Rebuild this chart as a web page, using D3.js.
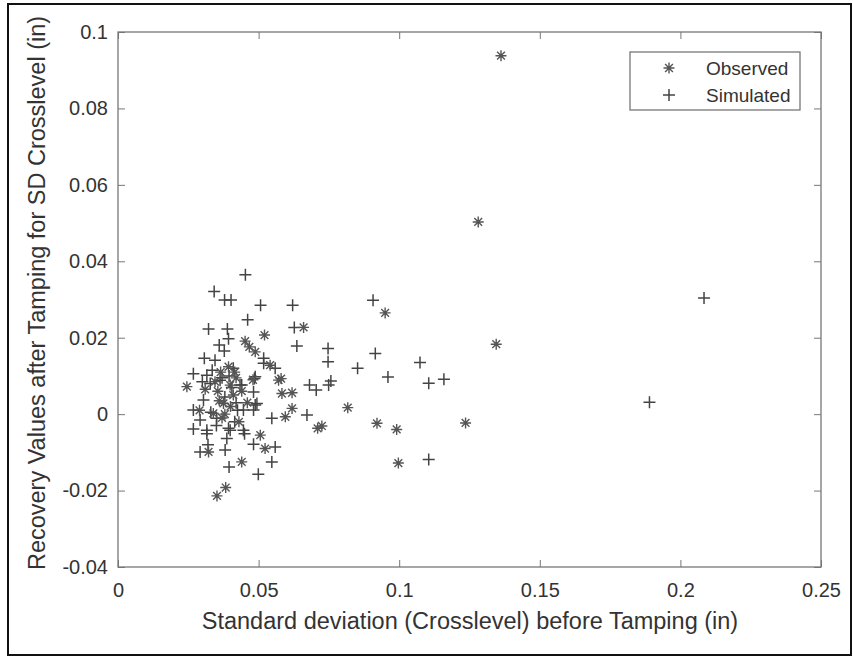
<!DOCTYPE html>
<html>
<head>
<meta charset="utf-8">
<script src="https://cdn.jsdelivr.net/npm/d3@7"></script>
<style>
  body { margin: 0; background: #fff; }
  svg text { font-family: "Liberation Sans", Arial, sans-serif; fill: #333; }
</style>
</head>
<body>
<div id="chart"></div>
<script>
// observed values [sd before tamping, recovery]
const observed = [
  [0.1362, 0.0938], [0.1281, 0.0503], [0.0950, 0.0265], [0.1345, 0.0183],
  [0.0521, 0.0207], [0.0660, 0.0227], [0.0817, 0.0017], [0.0921, -0.0024],
  [0.0991, -0.0040], [0.0997, -0.0128], [0.1236, -0.0023], [0.0725, -0.0031],
  [0.0710, -0.0037], [0.0352, -0.0214], [0.0383, -0.0192], [0.0245, 0.0072],
  [0.0452, 0.0191], [0.0467, 0.0176], [0.0488, 0.0163], [0.0541, 0.0128],
  [0.0580, 0.0093], [0.0583, 0.0054], [0.0619, 0.0056], [0.0571, 0.0089],
  [0.0619, 0.0015], [0.0595, -0.0007], [0.0393, 0.0124], [0.0399, 0.0076],
  [0.0375, 0.0028], [0.0339, 0.0002], [0.0410, 0.0050], [0.0322, -0.0099],
  [0.0506, -0.0055], [0.0523, -0.0090], [0.0440, -0.0125], [0.0365, 0.0110],
  [0.0420, 0.0095], [0.0380, 0.0000], [0.0355, 0.0060], [0.0460, 0.0030],
  [0.0290, 0.0010], [0.0480, 0.0090], [0.0430, -0.0020], [0.0360, 0.0035],
  [0.0415, 0.0110], [0.0345, 0.0085], [0.0400, 0.0020], [0.0370, -0.0010],
  [0.0310, 0.0065], [0.0440, 0.0060]
];

// simulated values
const simulated = [
  [0.2084, 0.0304], [0.1890, 0.0031], [0.0453, 0.0365], [0.0342, 0.0321],
  [0.0379, 0.0299], [0.0402, 0.0299], [0.0507, 0.0285], [0.0621, 0.0285],
  [0.0907, 0.0298], [0.0627, 0.0227], [0.0322, 0.0223], [0.0389, 0.0223],
  [0.0461, 0.0247], [0.0636, 0.0178], [0.0747, 0.0172], [0.0747, 0.0137],
  [0.0915, 0.0159], [0.0852, 0.0120], [0.1074, 0.0135], [0.0960, 0.0097],
  [0.1105, 0.0081], [0.1159, 0.0091], [0.0757, 0.0087], [0.0749, 0.0076],
  [0.0681, 0.0076], [0.0705, 0.0063], [0.0672, -0.0002], [0.1105, -0.0119],
  [0.0499, -0.0157], [0.0547, -0.0125], [0.0393, 0.0197], [0.0360, 0.0181],
  [0.0378, 0.0165], [0.0518, 0.0146], [0.0559, 0.0120], [0.0307, 0.0146],
  [0.0345, 0.0141], [0.0268, 0.0106], [0.0440, 0.0076], [0.0482, 0.0058],
  [0.0485, 0.0093], [0.0488, 0.0024], [0.0268, -0.0039], [0.0316, -0.0051],
  [0.0292, -0.0099], [0.0381, -0.0094], [0.0387, -0.0064], [0.0393, -0.0037],
  [0.0450, -0.0051], [0.0482, -0.0079], [0.0559, -0.0086], [0.0395, -0.0138],
  [0.0482, 0.0011], [0.0547, -0.0011], [0.0316, 0.0102], [0.0328, 0.0080],
  [0.0363, 0.0089], [0.0434, 0.0076], [0.0488, 0.0098], [0.0494, 0.0028],
  [0.0446, 0.0011], [0.0268, 0.0011], [0.0316, -0.0042], [0.0399, -0.0042],
  [0.0446, -0.0042], [0.0292, -0.0015], [0.0351, -0.0011], [0.0304, 0.0037],
  [0.0518, 0.0133], [0.0320, -0.0080], [0.0330, 0.0005], [0.0410, 0.0120],
  [0.0395, 0.0100], [0.0370, 0.0095], [0.0420, 0.0030], [0.0300, 0.0085],
  [0.0350, -0.0030], [0.0425, 0.0010], [0.0380, 0.0045], [0.0405, 0.0070],
  [0.0335, 0.0115], [0.0415, -0.0020]
];

const xTicks = [0, 0.05, 0.1, 0.15, 0.2, 0.25];
const yTicks = [-0.04, -0.02, 0, 0.02, 0.04, 0.06, 0.08, 0.1];
const legendLabels = ["Observed", "Simulated"];

const W = 853, H = 657;
const margin = {left: 118, right: 32, top: 32, bottom: 90};
const innerW = W - margin.left - margin.right;
const innerH = H - margin.top - margin.bottom;

const svg = d3.select("#chart").append("svg")
    .attr("width", W).attr("height", H);

//outer frame of the figure
svg.append("rect")
    .attr("x", 8).attr("y", 4)
    .attr("width", 843).attr("height", 651)
    .attr("fill", "none").attr("stroke", "#111").attr("stroke-width", 2);

const g = svg.append("g").attr("transform", `translate(${margin.left},${margin.top})`);

const x = d3.scaleLinear().domain([0, 0.25]).range([0, innerW]);
const y = d3.scaleLinear().domain([-0.04, 0.1]).range([innerH, 0]);

const fmt = d => d === 0 ? "0" : String(+d.toFixed(2));

// matlab style axes: ticks inside, box on
const styleAxis = sel => {
  sel.select(".domain").remove();
  sel.selectAll(".tick line").attr("stroke", "#777");
  sel.selectAll(".tick text").attr("font-size", 20).attr("fill", "#333");
};

g.append("g").attr("transform", `translate(0,${innerH})`)
    .call(d3.axisBottom(x).tickValues(xTicks).tickSizeInner(-7).tickSizeOuter(0)
      .tickPadding(16).tickFormat(fmt))
    .call(styleAxis);
g.append("g")
    .call(d3.axisTop(x).tickValues(xTicks).tickSizeInner(-7).tickSizeOuter(0).tickFormat(""))
    .call(styleAxis);
g.append("g")
    .call(d3.axisLeft(y).tickValues(yTicks).tickSizeInner(-7).tickSizeOuter(0)
      .tickPadding(10).tickFormat(fmt))
    .call(styleAxis);
g.append("g").attr("transform", `translate(${innerW},0)`)
    .call(d3.axisRight(y).tickValues(yTicks).tickSizeInner(-7).tickSizeOuter(0).tickFormat(""))
    .call(styleAxis);

g.append("rect")
    .attr("width", innerW).attr("height", innerH)
    .attr("fill", "none").attr("stroke", "#777").attr("stroke-width", 1.3);

// markers
const plusPath = s => `M${-s},0H${s}M0,${-s}V${s}`;
const starPath = s => {
  let p = "";
  for (let i = 0; i < 4; i++) {
    const a = i * Math.PI / 4, dx = s * Math.cos(a), dy = s * Math.sin(a);
    p += `M${-dx},${-dy}L${dx},${dy}`;
  }
  return p;
};

g.append("g").selectAll("path")
  .data(simulated)
  .join("path")
    .attr("transform", d => `translate(${x(d[0])},${y(d[1])})`)
    .attr("d", plusPath(6))
    .attr("stroke", "#444").attr("stroke-width", 1.5).attr("fill", "none");

g.append("g").selectAll("path")
  .data(observed)
  .join("path")
    .attr("transform", d => `translate(${x(d[0])},${y(d[1])})`)
    .attr("d", starPath(5.5))
    .attr("stroke", "#555").attr("stroke-width", 1.4).attr("fill", "none");

// legend
const leg = svg.append("g").attr("transform", "translate(630,52)");
leg.append("rect").attr("width", 170).attr("height", 58)
    .attr("fill", "#fff").attr("stroke", "#777").attr("stroke-width", 1.3);
leg.append("path").attr("transform", "translate(39,16)").attr("d", starPath(5.5))
    .attr("stroke", "#555").attr("stroke-width", 1.4);
leg.append("path").attr("transform", "translate(39,43)").attr("d", plusPath(6))
    .attr("stroke", "#444").attr("stroke-width", 1.5);
leg.selectAll("text").data(legendLabels).join("text")
    .attr("x", 76).attr("y", (d, i) => 23 + i * 27)
    .attr("font-size", 19).text(d => d);

// axis titles
svg.append("text")
    .attr("x", 470).attr("y", 629)
    .attr("text-anchor", "middle").attr("font-size", 23.5)
    .text("Standard deviation (Crosslevel) before Tamping (in)");
svg.append("text")
    .attr("transform", "translate(45,293) rotate(-90)")
    .attr("text-anchor", "middle").attr("font-size", 23.5)
    .text("Recovery Values after Tamping for SD Crosslevel (in)");
</script>
</body>
</html>
